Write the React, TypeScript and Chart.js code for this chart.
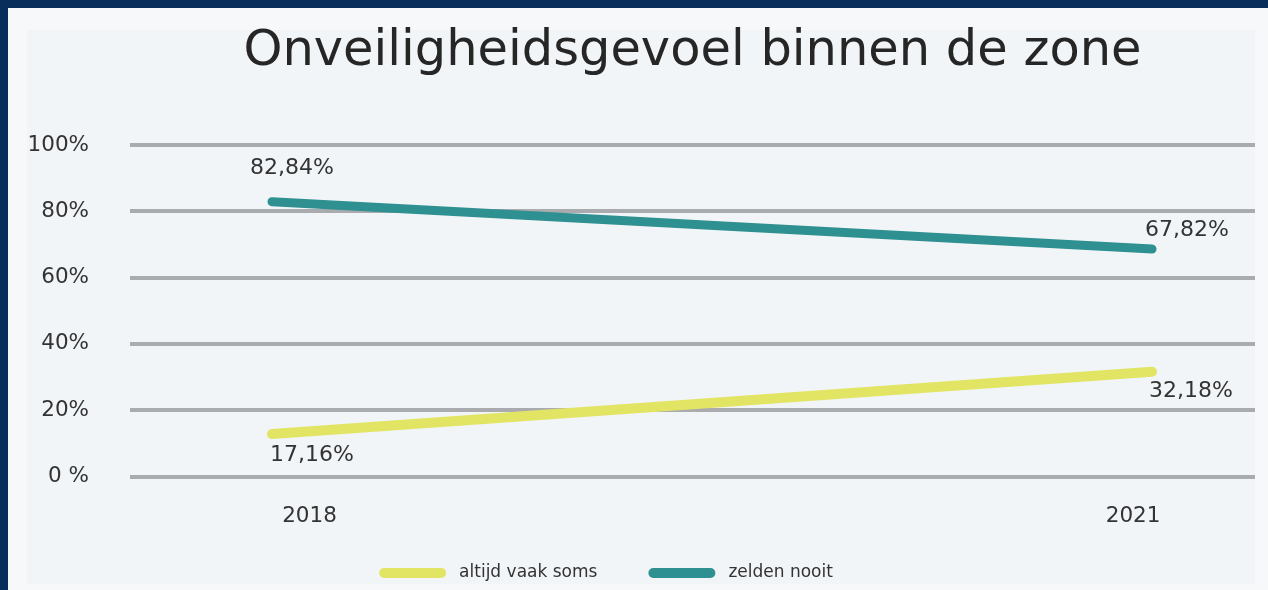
import React, { useEffect, useRef } from "react";
import { Chart, registerables } from "chart.js";

Chart.register(...registerables);

// ---- data ----
const TITLE = "Onveiligheidsgevoel binnen de zone";
const YEARS = [2018, 2021];
const YEAR_LABELS = ["2018", "2021"];
const SERIES_NAMES = ["altijd vaak soms", "zelden nooit"];
const ALTIJD_VAAK_SOMS = [12.8, 31.6];
const ZELDEN_NOOIT = [82.9, 68.6];
const ALTIJD_VAAK_SOMS_LABELS = ["17,16%", "32,18%"];
const ZELDEN_NOOIT_LABELS = ["82,84%", "67,82%"];
const Y_TICKS = [0, 20, 40, 60, 80, 100];
const Y_TICK_LABELS = ["0 %", "20%", "40%", "60%", "80%", "100%"];

// ---- styles ----
const FONT = "'DejaVu Sans', Verdana, sans-serif";
const TEXT = "#333333";
const YELLOW = "#e2e564";
const TEAL = "#2e9090";
const GRID = "#a9abae";
// label offsets (dx, dy) relative to each point, per dataset
const LABEL_OFFSETS = [
  [[40, 21], [39, 20]],
  [[20, -33], [35, -19]],
];
const LEGEND_CENTER_X = 606;
const LEGEND_Y = 573;
const LEGEND_BOX = 67;
const LEGEND_TEXT_GAP = 13;
const LEGEND_ITEM_GAP = 51;

const dataLabelPlugin = {
  id: "dataLabels",
  afterDatasetsDraw(chart: any) {
    const ctx = chart.ctx;
    ctx.save();
    ctx.font = `22px ${FONT}`;
    ctx.fillStyle = TEXT;
    ctx.textAlign = "center";
    ctx.textBaseline = "middle";
    chart.data.datasets.forEach((ds: any, i: number) => {
      const meta = chart.getDatasetMeta(i);
      meta.data.forEach((el: any, j: number) => {
        const [dx, dy] = LABEL_OFFSETS[i][j];
        ctx.fillText(ds.valueLabels[j], el.x + dx, el.y + dy);
      });
    });
    ctx.restore();
  },
};

const legendPlugin = {
  id: "customLegend",
  afterDraw(chart: any) {
    const ctx = chart.ctx;
    ctx.save();
    ctx.font = `17px ${FONT}`;
    const items = chart.data.datasets.map((ds: any) => ({
      text: ds.label,
      color: ds.borderColor,
      w: ctx.measureText(ds.label).width,
    }));
    const total =
      items.reduce((s: number, it: any) => s + LEGEND_BOX + LEGEND_TEXT_GAP + it.w, 0) +
      LEGEND_ITEM_GAP * (items.length - 1);
    let x = LEGEND_CENTER_X - total / 2;
    items.forEach((it: any) => {
      ctx.strokeStyle = it.color;
      ctx.lineWidth = 10;
      ctx.lineCap = "round";
      ctx.beginPath();
      ctx.moveTo(x + 5, LEGEND_Y);
      ctx.lineTo(x + LEGEND_BOX - 5, LEGEND_Y);
      ctx.stroke();
      ctx.fillStyle = TEXT;
      ctx.textAlign = "left";
      ctx.textBaseline = "middle";
      ctx.fillText(it.text, x + LEGEND_BOX + LEGEND_TEXT_GAP, LEGEND_Y);
      x += LEGEND_BOX + LEGEND_TEXT_GAP + it.w + LEGEND_ITEM_GAP;
    });
    ctx.restore();
  },
};

export default function App() {
  const ref = useRef<HTMLCanvasElement>(null);

  useEffect(() => {
    if (!ref.current) return;
    const chart = new Chart(ref.current, {
      type: "line",
      data: {
        datasets: [
          {
            label: SERIES_NAMES[0],
            data: YEARS.map((y, i) => ({ x: y, y: ALTIJD_VAAK_SOMS[i] })),
            valueLabels: ALTIJD_VAAK_SOMS_LABELS,
            borderColor: YELLOW,
            backgroundColor: YELLOW,
            borderWidth: 10,
            borderCapStyle: "round",
            pointRadius: 0,
            xAxisID: "x",
          } as any,
          {
            label: SERIES_NAMES[1],
            data: YEARS.map((y, i) => ({ x: y, y: ZELDEN_NOOIT[i] })),
            valueLabels: ZELDEN_NOOIT_LABELS,
            borderColor: TEAL,
            backgroundColor: TEAL,
            borderWidth: 9,
            borderCapStyle: "round",
            pointRadius: 0,
            xAxisID: "x",
          } as any,
        ],
      },
      options: {
        animation: false,
        responsive: false,
        maintainAspectRatio: false,
        layout: { padding: { left: 20, right: 13, top: 0, bottom: 53.5 } },
        plugins: {
          legend: { display: false },
          tooltip: { enabled: false },
          title: {
            display: true,
            fullSize: false,
            text: TITLE,
            color: "#262626",
            font: { family: FONT, size: 49.5, weight: "normal", lineHeight: 1.2 },
            padding: { top: 22.5, bottom: 63.1 },
          },
        },
        scales: {
          x: {
            type: "linear",
            display: false,
            min: 2017.516,
            max: 2021.351,
          },
          xl: {
            type: "linear",
            axis: "x",
            position: "bottom",
            min: 2017.346,
            max: 2021.444,
            grid: { display: false, drawTicks: false },
            border: { display: false },
            afterBuildTicks: (s: any) => {
              s.ticks = YEARS.map((v) => ({ value: v }));
            },
            afterFit: (s: any) => {
              s.height = 60;
            },
            ticks: {
              autoSkip: false,
              maxRotation: 0,
              padding: 27,
              color: TEXT,
              font: { family: FONT, size: 21.5 },
              callback: (v: any) => YEAR_LABELS[YEARS.indexOf(Number(v))] ?? "",
            },
          },
          y: {
            type: "linear",
            min: 0,
            max: 100,
            afterBuildTicks: (s: any) => {
              s.ticks = Y_TICKS.map((v) => ({ value: v }));
            },
            afterFit: (s: any) => {
              s.width = 110;
            },
            grid: { color: GRID, lineWidth: 4, drawTicks: false },
            border: { display: false },
            ticks: {
              padding: 41,
              color: TEXT,
              font: { family: FONT, size: 21.5 },
              callback: (v: any) => Y_TICK_LABELS[Y_TICKS.indexOf(Number(v))] ?? "",
            },
          },
        },
      } as any,
      plugins: [dataLabelPlugin, legendPlugin],
    });
    return () => chart.destroy();
  }, []);

  return (
    <div
      style={{
        position: "fixed",
        left: 0,
        top: 0,
        width: 1268,
        height: 590,
        background: "#0a2e5c",
        overflow: "hidden",
      }}
    >
      <div
        style={{
          position: "absolute",
          left: 8,
          top: 8,
          width: 1260,
          height: 582,
          background: "#f6f8fa",
        }}
      />
      <div
        style={{
          position: "absolute",
          left: 27,
          top: 30,
          width: 1228,
          height: 554,
          background: "#f2f5f8",
        }}
      />
      <canvas
        ref={ref}
        width={1268}
        height={590}
        style={{ position: "absolute", left: 0, top: 0, width: 1268, height: 590 }}
      />
    </div>
  );
}
